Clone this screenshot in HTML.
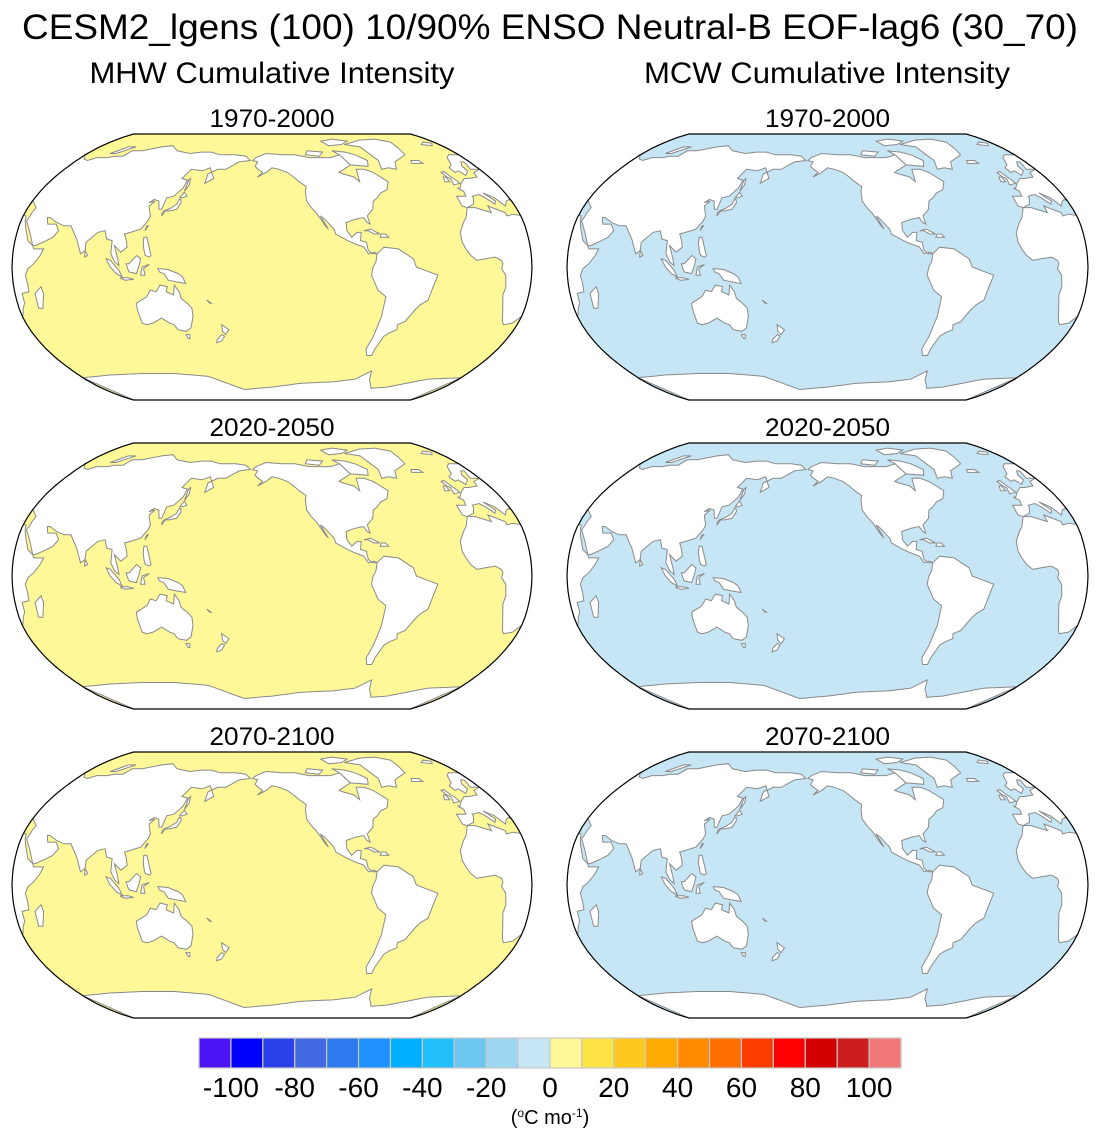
<!DOCTYPE html>
<html><head><meta charset="utf-8">
<style>
html,body{margin:0;padding:0;background:#fff;}
body{width:1100px;height:1140px;position:relative;overflow:hidden;font-family:"Liberation Sans",Arial,sans-serif;}
</style></head>
<body>
<svg id="fig" width="1100" height="1140" viewBox="0 0 1100 1140" xmlns="http://www.w3.org/2000/svg" font-family="Liberation Sans, Arial, sans-serif">
<text x="550" y="39" text-anchor="middle" font-size="35" textLength="1056" lengthAdjust="spacingAndGlyphs">CESM2_lgens (100) 10/90% ENSO Neutral-B EOF-lag6 (30_70)</text>
<text x="272" y="83" text-anchor="middle" font-size="30" textLength="365" lengthAdjust="spacingAndGlyphs">MHW Cumulative Intensity</text>
<text x="827" y="83" text-anchor="middle" font-size="30" textLength="366" lengthAdjust="spacingAndGlyphs">MCW Cumulative Intensity</text>
<g id="panels"></g>
<g id="cbar"></g>
</svg>
<script>
const periods=["1970-2000","2020-2050","2070-2100"];
const mhwValues=[5,5,5];
const mcwValues=[-5,-5,-5];
const cbLevels=[-100,-90,-80,-70,-60,-50,-40,-30,-20,-10,0,10,20,30,40,50,60,70,80,90,100];
const cbColors=["#4a14f5","#0000ff","#2a40e8","#4169e1","#2e7bef","#1e90ff","#00b0ff","#22c0fb","#6bc6f0","#9dd6f0","#c6e6f5","#fff898","#ffe445","#ffc81e","#ffaa00","#ff8c00","#ff6e00","#ff3c00","#ff0000","#d20000","#cd1e1e","#f07878"];
const cbTicks=[-100,-80,-60,-40,-20,0,20,40,60,80,100];

const NS="http://www.w3.org/2000/svg";
function mk(t,a,p){const e=document.createElementNS(NS,t);for(const k in a)e.setAttribute(k,a[k]);if(p)p.appendChild(e);return e;}
function colorFor(v){let i=0;while(i<cbLevels.length&&v>=cbLevels[i])i++;return cbColors[i];}

const RT=[[1,0],[.9986,.062],[.9954,.124],[.99,.186],[.9822,.248],[.973,.31],[.96,.372],[.9427,.434],[.9216,.4958],[.8962,.5571],[.8679,.6176],[.835,.6769],[.7986,.7346],[.7597,.7903],[.7186,.8435],[.6732,.8936],[.6213,.9394],[.5722,.9761],[.5322,1]];
function rob(lat){const a=Math.min(Math.abs(lat),90)/5;const i=Math.min(Math.floor(a),17);const f=a-i;const X=RT[i][0]+(RT[i+1][0]-RT[i][0])*f;const Y=RT[i+1][1]*f+RT[i][1]*(1-f);return [X,Math.sign(lat)*Y];}
const LON0=210;

const land={
na:[[-165,68],[-156,71],[-140,70],[-128,70],[-115,68],[-95,68],[-85,70],[-80,63],[-93,58],[-90,57],[-82,55],[-79,52],[-77,60],[-70,60],[-64,58],[-60,55],[-56,52],[-60,47],[-66,45],[-70,42],[-74,40],[-76,35],[-81,31],[-80,26],[-82,27],[-84,30],[-90,29],[-97,27],[-97,22],[-94,18],[-90,21],[-87,21],[-88,16],[-84,15],[-83,10],[-80,8],[-77,8],[-79,9],[-83,8],[-86,12],[-92,14],[-97,16],[-105,20],[-106,23],[-112,29],[-115,31],[-110,23],[-112,25],[-117,32],[-121,36],[-124,40],[-124,46],[-123,49],[-128,52],[-132,55],[-137,58],[-144,60],[-150,61],[-155,58],[-162,55],[-158,58],[-162,60],[-165,62],[-163,65],[-168,66]],
sa:[[-77,8],[-72,12],[-62,11],[-52,5],[-50,0],[-44,-2],[-35,-5],[-38,-13],[-40,-20],[-45,-23],[-48,-26],[-53,-33],[-58,-35],[-57,-38],[-62,-40],[-65,-42],[-68,-50],[-68,-54],[-72,-54],[-75,-50],[-73,-42],[-71,-30],[-70,-18],[-76,-14],[-81,-5],[-80,0],[-78,3]],
gl:[[-55,60],[-48,61],[-42,60],[-38,65],[-22,70],[-20,75],[-18,80],[-30,83],[-50,82],[-60,80],[-72,78],[-58,76],[-55,70],[-52,66]],
baffin:[[-80,63],[-65,62],[-62,66],[-70,70],[-78,72],[-90,73],[-85,70]],
victoria:[[-118,70],[-105,69],[-100,72],[-115,73]],
elles:[[-90,77],[-75,78],[-65,81],[-80,83],[-95,81]],
eur:[[-9,43],[-9,37],[-6,36],[0,38],[3,42],[3,43],[9,44],[12,42],[16,38],[18,40],[13,45],[19,42],[23,37],[26,40],[29,41],[36,36],[35,33],[35,31],[34,28],[39,21],[43,13],[45,13],[52,16],[56,18],[59,22],[56,26],[50,26],[48,30],[50,30],[56,27],[62,25],[67,25],[70,21],[73,17],[77,8],[80,10],[80,15],[87,21],[92,22],[94,17],[98,16],[98,8],[101,3],[104,1],[103,5],[100,13],[105,9],[109,12],[108,16],[106,20],[110,21],[117,23],[121,28],[122,31],[120,35],[119,37],[122,40],[118,39],[121,41],[125,40],[127,35],[129,35],[130,42],[135,43],[140,48],[141,53],[136,54],[140,60],[150,59],[156,61],[162,54],[156,51],[156,57],[163,60],[170,60],[180,65],[190,66],[185,69],[175,70],[160,70],[150,72],[140,72],[130,71],[115,73],[105,77],[95,76],[80,73],[70,73],[68,69],[60,69],[55,68],[45,68],[40,66],[35,67],[30,70],[20,70],[15,68],[10,63],[5,61],[6,58],[10,59],[12,56],[18,59],[18,62],[22,65],[25,65],[22,60],[30,60],[22,58],[20,55],[12,54],[8,54],[4,52],[2,51],[-2,48],[-4,48],[-1,46],[-2,43]],
af:[[-17,21],[-17,15],[-15,11],[-12,7],[-8,4],[-2,5],[5,6],[9,4],[10,2],[9,-1],[12,-5],[13,-12],[12,-17],[15,-27],[18,-33],[20,-35],[26,-34],[31,-29],[33,-25],[35,-22],[35,-16],[40,-15],[40,-10],[39,-5],[41,-1],[45,2],[49,7],[51,11],[44,11],[43,13],[39,16],[35,24],[33,28],[32,31],[25,32],[20,31],[20,33],[10,37],[10,33],[0,36],[-6,36],[-10,30],[-13,27]],
mad:[[44,-25],[47,-25],[50,-16],[49,-12],[44,-16]],
aus:[[114,-22],[114,-26],[115,-34],[118,-35],[123,-34],[130,-31],[135,-34],[138,-35],[140,-38],[146,-39],[150,-37],[153,-30],[153,-25],[150,-22],[146,-19],[145,-15],[142,-11],[141,-17],[136,-15],[137,-12],[132,-11],[129,-15],[125,-14],[122,-18]],
tas:[[145,-41],[148,-41],[147,-43.5],[146,-43.5]],
nzn:[[173,-35],[178,-38],[175,-41],[173,-39]],
nzs:[[172,-41],[174,-42],[171,-45],[167,-46],[168,-44]],
png:[[131,-1],[138,-1.5],[145,-4],[148,-6],[150,-10],[143,-9],[138,-8],[135,-4],[132,-3]],
borneo:[[109,2],[111,2],[116,7],[119,5],[118,1],[116,-4],[111,-3],[110,-1]],
sumatra:[[95,5],[98,4],[104,-2],[106,-6],[102,-4],[98,0]],
java:[[105,-6.5],[110,-6.5],[114,-7.5],[108,-8],[105,-7]],
sulawesi:[[119,-5],[120,0],[125,1.5],[121,-1],[122,-5]],
phil:[[120,18],[122,18],[124,13],[126,7],[125,6],[122,7],[121,10],[120,14]],
japan:[[130,31],[132,34],[135,34],[140,35],[142,39],[141,41],[140,41],[139,38],[135,35.5],[131,34],[130,33]],
hokk:[[140,42],[142,42],[145,43],[142,45.5]],
sakh:[[142,46],[144,50],[143,54],[142,53]],
taiwan:[[120,22],[122,25],[121,25]],
srilanka:[[80,6],[82,7],[80,10]],
uk:[[-5,50],[1,51],[0,53],[-2,56],[-3,58.5],[-6,58],[-5,55],[-3,54],[-4,52]],
ire:[[-10,52],[-6,52],[-6,55],[-8,55]],
ice:[[-24,64],[-14,64],[-15,66],[-22,66]],
nz2:[[52,71],[58,71],[68,76],[60,76]],
sval:[[11,78],[20,77],[25,79],[18,80]],
cuba:[[-85,22],[-80,23],[-74,20],[-78,20],[-82,22]],
hisp:[[-74,18],[-68,18],[-70,20],[-73,20]],
ncal:[[164,-20],[167,-22],[166,-22]]
};
const antLon=[-180,-150,-120,-90,-70,-58,-60,-45,-30,0,30,60,90,120,150,180];
const antLat=[-78,-76,-73,-72,-70,-63,-68,-77,-76,-70,-69,-67,-66,-66,-68,-78];

function buildPanel(px,py,W,H,val,title,name,pi){
  const g=mk("g",{},document.getElementById("panels"));
  
  
  const t=mk("text",{x:px+W/2,y:py-7,"text-anchor":"middle","font-size":"25",textLength:"125",lengthAdjust:"spacingAndGlyphs"},g);
  t.textContent=title;
  
  
  const sx=W/(2*Math.PI), sy=H/2;
  const cx=px+W/2, cy=py+H/2;
  function P(d,lat){const r=rob(lat);return [cx+r[0]*d*Math.PI/180*sx, cy-r[1]*sy];}
  let pts=[];
  for(let la=90;la>=-90;la-=2.5)pts.push(P(180,la));
  for(let la=-90;la<=90;la+=2.5)pts.push(P(-180,la));
  const od="M"+pts.map(p=>p[0].toFixed(1)+","+p[1].toFixed(1)).join("L")+"Z";
  const cid="clip"+pi;
  const cp=mk("clipPath",{id:cid},g);mk("path",{d:od},cp);
  const ocean=mk("path",{d:od,fill:colorFor(val)},g);
  
  
  const lg=mk("g",{"clip-path":"url(#"+cid+")"},g);
  
  
  for(const k in land){
    const poly=land[k];
    let prev=null;const ds=[];
    for(const p of poly){let d=((p[0]-LON0)%360+540)%360-180;if(prev!==null){while(d-prev>180)d-=360;while(d-prev<-180)d+=360;}ds.push(d);prev=d;}
    for(const sh of [-360,0,360]){
      const q=poly.map((p,i)=>P(ds[i]+sh,p[1]));
      if(q.every(v=>v[0]<px-5)||q.every(v=>v[0]>px+W+5))continue;
      mk("path",{d:"M"+q.map(v=>v[0].toFixed(1)+","+v[1].toFixed(1)).join("L")+"Z",fill:"#fff",stroke:"#8a8a8a","stroke-width":"1"},lg);
    }
  }
  const aq=[];
  for(let d=-180;d<=180;d+=5){const lon=d+LON0;let L=((lon+180)%360+360)%360-180;let i=0;while(i<antLon.length-2&&L>antLon[i+1])i++;const f=(L-antLon[i])/(antLon[i+1]-antLon[i]);aq.push(P(d,antLat[i]+(antLat[i+1]-antLat[i])*f));}
  const ad="M"+aq.map(v=>v[0].toFixed(1)+","+v[1].toFixed(1)).join("L")+"L"+P(180,-90).join(",")+"L"+P(-180,-90).join(",")+"Z";
  const ant=mk("path",{d:ad,fill:"#fff",stroke:"#8a8a8a","stroke-width":"1"},lg);
  
  
  const bd=mk("path",{d:od,fill:"none",stroke:"#000","stroke-width":"1.2"},g);
  
  
}
const rowsY=[134,443,752];
for(let r=0;r<3;r++){
  buildPanel(12,rowsY[r],520,266,mhwValues[r],periods[r],'mhw-map-'+periods[r],'L'+r);
  buildPanel(567,rowsY[r],521,266,mcwValues[r],periods[r],'mcw-map-'+periods[r],'R'+r);
}
const cb=document.getElementById("cbar");
const cbx=199,cbw=702,cby=1038,cbh=30,bw=cbw/cbColors.length;
cbColors.forEach((c,i)=>{
  const r=mk("rect",{x:cbx+i*bw,y:cby,width:bw,height:cbh,fill:c,stroke:"#c8c8c8","stroke-width":"1.2"},cb);
  
  
});
cbTicks.forEach(v=>{
  const i=cbLevels.indexOf(v);
  const t=mk("text",{x:cbx+(i+1)*bw,y:1097,"text-anchor":"middle","font-size":"28"},cb);
  t.textContent=v;
  
  
});
const u=mk("text",{x:550,y:1124,"text-anchor":"middle","font-size":"20"},cb);
u.innerHTML='(<tspan baseline-shift="super" font-size="12">o</tspan>C mo<tspan baseline-shift="super" font-size="12">-1</tspan>)';


</script>
</body></html>
